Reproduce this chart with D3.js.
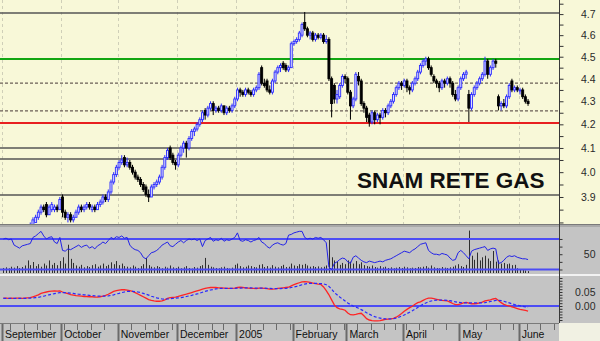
<!DOCTYPE html>
<html><head><meta charset="utf-8">
<script src="https://cdn.jsdelivr.net/npm/d3@7"></script>
<style>body{margin:0;background:#fff}svg{display:block}</style>
</head><body><svg id="c" width="600" height="341"></svg>
<script>
// ---------------- DATA ----------------
const startDate = "2004-09-01";
const holidays = ["2004-12-24","2005-03-25","2005-03-28"];
const monthLabels = ["September","October","November","December","2005","February","March","April","May","June"];
const priceTickLabels = [3.9,4.0,4.1,4.2,4.3,4.4,4.5,4.6,4.7];
const rsiTickLabels = [50];
const macdTickLabels = [0.00,0.05];
const title = "SNAM RETE GAS";
const greyLevels = [4.705,4.10,4.054,3.908];
const dashedLevels = [4.38,4.258];
const greenLevel = 4.49;
const redLevel = 4.206;
const rsiBands = [70,30];

const opens = [
3.73,3.74,3.75,3.74,3.76,3.75,3.76,3.77,3.76,3.77,
3.78,3.79,3.80,3.82,3.84,3.86,3.87,3.83,3.85,3.85,
3.86,3.85,3.90,3.84,3.82,3.83,3.81,3.82,3.84,3.86,
3.85,3.86,3.87,3.85,3.86,3.85,3.87,3.88,3.90,3.89,
3.92,3.96,3.99,4.02,4.04,4.06,4.03,4.04,4.02,4.00,
3.98,3.97,3.95,3.94,3.91,3.90,3.94,3.95,3.96,3.98,
4.02,4.06,4.10,4.07,4.04,4.03,4.07,4.10,4.12,4.10,
4.14,4.17,4.18,4.20,4.22,4.26,4.24,4.27,4.29,4.26,
4.27,4.26,4.28,4.25,4.27,4.26,4.28,4.31,4.35,4.34,
4.33,4.35,4.34,4.33,4.35,4.36,4.45,4.38,4.39,4.35,
4.34,4.39,4.43,4.45,4.47,4.46,4.44,4.45,4.56,4.57,
4.58,4.60,4.66,4.63,4.60,4.61,4.58,4.60,4.59,4.60,
4.57,4.58,4.40,4.37,4.31,4.32,4.37,4.41,4.40,4.34,
4.28,4.31,4.41,4.39,4.29,4.27,4.24,4.21,4.25,4.22,
4.24,4.23,4.26,4.25,4.28,4.30,4.33,4.36,4.38,4.37,
4.39,4.36,4.35,4.38,4.40,4.43,4.46,4.48,4.49,4.45,
4.41,4.39,4.38,4.36,4.39,4.38,4.40,4.38,4.33,4.31,
4.36,4.40,4.42,4.33,4.27,4.33,4.36,4.38,4.40,4.42,
4.48,4.42,4.45,4.48,4.32,4.28,4.29,4.28,4.32,4.39,
4.35,4.36,4.35,4.35,4.32,4.30];
const highs = [
3.75,3.76,3.76,3.77,3.77,3.77,3.78,3.78,3.78,3.79,
3.80,3.82,3.83,3.85,3.87,3.87,3.88,3.87,3.88,3.87,
3.87,3.90,3.91,3.85,3.84,3.84,3.83,3.85,3.87,3.87,
3.87,3.88,3.88,3.87,3.87,3.88,3.89,3.91,3.91,3.93,
3.97,4.00,4.03,4.05,4.07,4.07,4.06,4.05,4.03,4.01,
3.99,3.98,3.96,3.95,3.93,3.95,3.96,3.97,3.99,4.03,
4.07,4.10,4.11,4.08,4.05,4.08,4.11,4.13,4.13,4.15,
4.18,4.19,4.21,4.23,4.26,4.27,4.28,4.30,4.30,4.28,
4.28,4.29,4.28,4.28,4.28,4.29,4.32,4.36,4.36,4.35,
4.36,4.36,4.35,4.36,4.37,4.43,4.46,4.40,4.40,4.37,
4.40,4.44,4.46,4.47,4.48,4.47,4.46,4.57,4.58,4.59,
4.62,4.66,4.71,4.64,4.62,4.62,4.61,4.61,4.61,4.61,
4.60,4.59,4.41,4.38,4.35,4.38,4.42,4.42,4.41,4.35,
4.32,4.43,4.43,4.40,4.30,4.28,4.25,4.26,4.26,4.25,
4.25,4.27,4.27,4.29,4.31,4.34,4.37,4.39,4.39,4.40,
4.40,4.37,4.39,4.41,4.44,4.47,4.49,4.50,4.50,4.46,
4.42,4.40,4.39,4.40,4.40,4.41,4.41,4.39,4.35,4.37,
4.41,4.43,4.44,4.35,4.34,4.37,4.39,4.41,4.43,4.50,
4.49,4.46,4.49,4.49,4.33,4.30,4.31,4.33,4.38,4.40,
4.37,4.37,4.36,4.36,4.33,4.31];
const lows = [
3.72,3.73,3.73,3.73,3.74,3.74,3.75,3.75,3.75,3.76,
3.77,3.79,3.80,3.81,3.83,3.84,3.82,3.83,3.84,3.84,
3.84,3.85,3.82,3.81,3.80,3.80,3.80,3.82,3.83,3.84,
3.84,3.85,3.85,3.84,3.84,3.85,3.86,3.87,3.88,3.88,
3.91,3.95,3.98,4.01,4.03,4.02,4.02,4.01,3.99,3.97,
3.96,3.94,3.92,3.90,3.88,3.90,3.93,3.94,3.95,3.97,
4.01,4.05,4.05,4.03,4.01,4.02,4.06,4.08,4.06,4.09,
4.13,4.15,4.17,4.19,4.21,4.22,4.23,4.26,4.24,4.25,
4.25,4.25,4.24,4.24,4.25,4.25,4.27,4.30,4.32,4.32,
4.32,4.33,4.32,4.32,4.34,4.35,4.37,4.36,4.34,4.33,
4.33,4.38,4.42,4.43,4.44,4.43,4.43,4.45,4.55,4.56,
4.57,4.59,4.62,4.59,4.58,4.57,4.57,4.58,4.58,4.56,
4.56,4.39,4.23,4.29,4.29,4.31,4.36,4.38,4.33,4.22,
4.27,4.30,4.37,4.28,4.25,4.21,4.19,4.20,4.20,4.21,
4.20,4.22,4.23,4.24,4.27,4.29,4.32,4.35,4.35,4.36,
4.34,4.33,4.34,4.37,4.39,4.42,4.45,4.46,4.44,4.41,
4.38,4.36,4.34,4.35,4.36,4.37,4.36,4.32,4.30,4.30,
4.35,4.39,4.40,4.21,4.26,4.32,4.35,4.37,4.39,4.41,
4.40,4.41,4.44,4.45,4.26,4.26,4.27,4.27,4.31,4.34,
4.34,4.34,4.33,4.31,4.29,4.28];
const closes = [
3.74,3.75,3.74,3.76,3.75,3.76,3.77,3.76,3.77,3.78,
3.78,3.81,3.82,3.84,3.86,3.85,3.83,3.86,3.87,3.86,
3.85,3.89,3.84,3.82,3.83,3.81,3.82,3.84,3.86,3.85,
3.86,3.87,3.86,3.86,3.85,3.87,3.88,3.90,3.89,3.92,
3.96,3.99,4.02,4.04,4.05,4.03,4.04,4.02,4.00,3.98,
3.97,3.95,3.93,3.91,3.90,3.94,3.95,3.96,3.98,4.02,
4.06,4.09,4.06,4.04,4.03,4.07,4.10,4.12,4.10,4.14,
4.17,4.18,4.20,4.22,4.25,4.24,4.27,4.29,4.26,4.27,
4.26,4.28,4.25,4.27,4.26,4.28,4.31,4.35,4.34,4.33,
4.35,4.34,4.33,4.35,4.36,4.42,4.38,4.37,4.35,4.34,
4.39,4.43,4.45,4.46,4.45,4.44,4.45,4.56,4.57,4.58,
4.61,4.65,4.63,4.60,4.61,4.58,4.60,4.59,4.60,4.57,
4.58,4.40,4.29,4.31,4.33,4.37,4.41,4.40,4.34,4.28,
4.31,4.42,4.39,4.29,4.27,4.23,4.21,4.25,4.22,4.24,
4.23,4.26,4.25,4.28,4.30,4.33,4.36,4.38,4.37,4.39,
4.36,4.35,4.38,4.40,4.43,4.46,4.48,4.49,4.45,4.42,
4.39,4.38,4.36,4.39,4.38,4.40,4.38,4.33,4.31,4.36,
4.40,4.42,4.43,4.27,4.33,4.36,4.38,4.40,4.42,4.48,
4.42,4.45,4.48,4.47,4.28,4.29,4.28,4.32,4.37,4.35,
4.36,4.35,4.35,4.32,4.30,4.29];
const volumes = [
1.6,1.8,1.5,2.0,1.7,2.2,1.6,1.9,2.4,4.0,2.5,
3.5,2.2,2.8,2.0,3.0,2.4,4.0,2.6,3.2,2.5,3.8,5.0,
3.0,9.0,4.5,3.2,2.4,2.0,2.6,1.8,2.2,1.9,2.5,2.8,
2.0,2.4,3.0,2.2,2.6,3.4,2.8,3.8,2.5,3.0,2.2,2.0,
1.8,2.4,2.0,1.6,2.2,2.8,4.8,2.5,2.0,1.8,2.2,1.9,
1.5,2.0,1.7,2.4,1.8,1.6,2.0,1.5,1.8,2.2,1.6,1.4,
1.9,1.7,2.2,2.5,4.8,2.6,2.0,1.8,1.6,1.5,1.8,2.0,
1.6,1.4,1.7,2.6,3.0,2.2,1.8,2.0,2.4,2.2,1.9,1.8,
2.6,2.8,1.9,2.2,1.7,2.5,2.0,1.8,2.2,2.6,1.9,2.0,
3.0,2.4,2.2,2.8,2.6,2.9,2.4,2.0,2.2,1.9,2.1,1.8,
2.0,2.4,10.5,5.0,4.0,3.5,2.6,3.2,2.8,4.0,3.6,3.0,
3.8,2.8,3.4,2.5,2.2,2.0,2.4,1.9,1.7,2.2,1.8,2.0,
1.6,1.8,1.5,1.7,1.9,1.6,2.0,1.8,1.5,1.7,1.6,1.9,
1.8,2.0,2.2,1.7,2.4,1.8,1.6,1.5,1.9,1.7,1.6,1.8,
2.0,2.4,2.8,2.2,1.9,2.6,13.5,5.5,4.2,6.5,4.0,5.0,
5.5,4.6,3.8,7.0,3.6,4.0,3.0,3.2,2.8,3.0,2.5,2.6,
1.5,1.2,1.0,0.8,0.6];
const rsi = [
70,71,69,70,62,60,58,61,62,63,64,
72,74,77,80,74,70,72,73,66,64,72,55,
54,57,56,58,60,62,59,61,62,58,60,57,
61,63,66,64,68,72,70,73,72,74,71,72,
62,58,56,55,52,46,44,48,52,53,55,58,
62,64,66,61,60,63,66,68,65,68,70,69,
70,68,70,60,68,70,72,67,69,68,71,67,
69,68,70,72,78,68,67,69,68,66,68,69,
72,66,64,60,58,62,64,65,63,62,64,75,
76,78,79,80,80,72,70,71,70,72,71,72,
69,65,33,30,38,40,43,45,44,40,38,46,
48,45,42,40,39,41,40,39,40,41,40,42,
43,44,46,48,50,52,54,53,52,55,57,60,
63,64,65,55,52,50,50,49,51,50,49,45,
42,43,52,55,52,48,44,54,56,57,58,59,
60,55,57,58,57,38,39,42,46,48,47,48,
46,45,44,44,43];
const macd = [
.028,.028,.027,.028,.027,.028,.028,.027,.028,.029,.030,
.033,.036,.040,.045,.048,.050,.052,.053,.054,.053,.054,.050,
.047,.044,.041,.039,.037,.036,.035,.034,.034,.033,.033,.032,
.032,.033,.035,.038,.042,.047,.052,.055,.057,.058,.058,.057,
.055,.052,.048,.043,.038,.033,.028,.023,.020,.018,.017,.017,
.018,.022,.027,.030,.031,.032,.034,.037,.040,.042,.045,.048,
.051,.054,.057,.060,.063,.065,.066,.066,.066,.065,.065,.064,
.063,.063,.063,.064,.066,.067,.066,.065,.064,.063,.063,.062,
.064,.064,.063,.062,.060,.060,.061,.063,.064,.065,.066,.067,
.072,.076,.080,.083,.086,.087,.086,.084,.082,.080,.078,.077,
.068,.055,.040,.022,.004,-.006,-.010,-.012,-.015,-.025,-.031,-.032,
-.030,-.027,-.026,-.035,-.045,-.050,-.052,-.053,-.053,-.052,-.050,-.048,
-.047,-.046,-.044,-.040,-.034,-.027,-.019,-.012,-.006,-.001,.006,.012,
.015,.020,.025,.028,.028,.026,.024,.022,.020,.019,.018,.014,
.009,.005,.005,.008,.011,.013,.010,.008,.008,.009,.011,.014,
.018,.020,.022,.025,.027,.020,.012,.006,.002,.000,-.003,-.006,
-.009,-.012,-.014,-.016,-.018];
const signal = [
.027,.027,.027,.027,.027,.027,.027,.027,.027,.028,.028,
.029,.030,.031,.033,.035,.038,.040,.042,.044,.046,.048,.048,
.048,.047,.046,.045,.043,.042,.041,.040,.039,.038,.037,.036,
.035,.035,.035,.035,.036,.038,.040,.043,.045,.048,.050,.052,
.052,.052,.051,.050,.048,.045,.042,.039,.035,.032,.029,.027,
.025,.024,.025,.026,.027,.028,.029,.030,.032,.034,.036,.038,
.041,.043,.046,.049,.052,.055,.057,.059,.061,.062,.063,.063,
.063,.063,.063,.063,.064,.064,.065,.065,.065,.065,.064,.064,
.064,.064,.064,.063,.063,.062,.062,.062,.062,.063,.063,.064,
.066,.068,.070,.073,.076,.078,.080,.081,.081,.081,.080,.080,
.079,.076,.070,.060,.048,.040,.032,.025,.018,.011,.005,.000,
-.004,-.008,-.013,-.018,-.024,-.029,-.034,-.038,-.041,-.043,-.045,-.046,
-.046,-.046,-.045,-.043,-.040,-.036,-.032,-.027,-.022,-.017,-.011,-.005,
.001,.006,.011,.015,.018,.020,.021,.021,.021,.021,.020,.019,
.017,.015,.013,.012,.011,.011,.011,.011,.011,.011,.011,.011,
.012,.014,.016,.018,.020,.020,.019,.017,.014,.011,.008,.005,
.003,.001,-.001,-.003,-.005];

// ---------------- BUILD ----------------
const N = closes.length;
[opens,highs,lows,volumes,rsi,macd,signal].forEach((a,k)=>{ if(a.length!==N) throw new Error("length mismatch "+k+": "+a.length+" vs "+N); });

const axisDays = 208;
const fmt = d3.timeFormat("%Y-%m-%d");
const days = [];
let dcur = d3.timeParse("%Y-%m-%d")(startDate);
while (days.length < axisDays) {
  const wd = dcur.getDay();
  if (wd > 0 && wd < 6 && !holidays.includes(fmt(dcur))) days.push(new Date(dcur));
  dcur = d3.timeDay.offset(dcur, 1);
}
const monthStarts = days.map((d,i)=>i).filter(i => i===0 || days[i].getMonth()!==days[i-1].getMonth());
const weekStarts = days.map((d,i)=>i).filter(i => i>0 && days[i].getDay()<days[i-1].getDay() && !monthStarts.includes(i));

const AX = 559;
const FONT = '"Liberation Sans", Arial, sans-serif';
const svg = d3.select("#c");
const x = d3.scaleLinear().domain([0, axisDays-1]).range([2, AX]);
const cx = i => x(i + 0.5);
const yP = d3.scaleLog().domain([3.794, 4.768]).range([224, 0]);
const yR = d3.scaleLinear().domain([25.4, 85.7]).range([273, 227]);
const yV = d3.scaleLinear().domain([0, 14]).range([273, 229]);
const yM = d3.scaleLinear().domain([-0.0571, 0.1071]).range([322, 276]);

// backgrounds
svg.append("rect").attr("x",0).attr("y",0).attr("width",600).attr("height",224).attr("fill","#f8f8d8");
svg.append("rect").attr("x",0).attr("y",224).attr("width",600).attr("height",3).attr("fill","#a9a9a9");
svg.append("line").attr("x1",0).attr("x2",600).attr("y1",224.5).attr("y2",224.5).attr("stroke","#7a7a7a");
svg.append("rect").attr("x",0).attr("y",227).attr("width",600).attr("height",47).attr("fill","#c4c4c4");
svg.append("rect").attr("x",0).attr("y",274).attr("width",600).attr("height",2).attr("fill","#f2f2f2");
svg.append("rect").attr("x",0).attr("y",276).attr("width",600).attr("height",47).attr("fill","#c4c4c4");
svg.append("rect").attr("x",0).attr("y",323).attr("width",AX).attr("height",18).attr("fill","#c4c4c4");
svg.append("rect").attr("x",AX).attr("y",323).attr("width",600-AX).attr("height",18).attr("fill","#f1f1e3");
svg.append("line").attr("x1",0).attr("x2",AX).attr("y1",323.5).attr("y2",323.5).attr("stroke","#7a7a7a");

const defs = svg.append("defs");
defs.append("clipPath").attr("id","cm").append("rect").attr("x",0).attr("y",0).attr("width",AX).attr("height",224);
defs.append("clipPath").attr("id","cr").append("rect").attr("x",0).attr("y",227).attr("width",AX).attr("height",47);
defs.append("clipPath").attr("id","cd").append("rect").attr("x",0).attr("y",276).attr("width",AX).attr("height",47);

// main panel grid
const gm = svg.append("g").attr("clip-path","url(#cm)");
gm.selectAll("line.vg").data(monthStarts).join("line").attr("class","vg")
  .attr("x1",i=>Math.round(x(i))+0.5).attr("x2",i=>Math.round(x(i))+0.5).attr("y1",0).attr("y2",224)
  .attr("stroke","#cfcfb8").attr("stroke-dasharray","3,3");
gm.selectAll("line.gl").data(greyLevels).join("line").attr("class","gl")
  .attr("x1",0).attr("x2",AX).attr("y1",d=>yP(d)).attr("y2",d=>yP(d)).attr("stroke","#565656").attr("stroke-width",1.4);
gm.selectAll("line.dl").data(dashedLevels).join("line").attr("class","dl")
  .attr("x1",0).attr("x2",AX).attr("y1",d=>yP(d)).attr("y2",d=>yP(d)).attr("stroke","#6a5e56").attr("stroke-width",1.3).attr("stroke-dasharray","3,2");
gm.append("line").attr("x1",0).attr("x2",AX).attr("y1",yP(greenLevel)).attr("y2",yP(greenLevel)).attr("stroke","#12a612").attr("stroke-width",2);
gm.append("line").attr("x1",0).attr("x2",AX).attr("y1",yP(redLevel)).attr("y2",yP(redLevel)).attr("stroke","#e82020").attr("stroke-width",2);

// title
svg.append("text").attr("x",357).attr("y",188).attr("font-family",FONT).attr("font-weight","bold")
  .attr("font-size","22.5px").attr("fill","#111").text(title);

// candles
const idx = d3.range(N);
const cg = gm.append("g");
const up = i => closes[i] >= opens[i];
cg.selectAll("line.wick").data(idx).join("line").attr("class","wick")
  .attr("x1",i=>cx(i)).attr("x2",i=>cx(i)).attr("y1",i=>yP(highs[i])).attr("y2",i=>yP(lows[i]))
  .attr("stroke",i=>up(i)?"#2c2cff":"#000").attr("stroke-width",1);
cg.selectAll("rect.body").data(idx).join("rect").attr("class","body")
  .attr("x",i=>cx(i)-1).attr("width",2)
  .attr("y",i=>yP(Math.max(opens[i],closes[i])))
  .attr("height",i=>Math.max(1, yP(Math.min(opens[i],closes[i])) - yP(Math.max(opens[i],closes[i]))))
  .attr("fill",i=>up(i)?"#dcdcff":"#000").attr("stroke",i=>up(i)?"#2c2cff":"#000").attr("stroke-width",0.9);

// RSI panel
const gr = svg.append("g").attr("clip-path","url(#cr)");
gr.selectAll("line.vol").data(idx).join("line").attr("class","vol")
  .attr("x1",i=>Math.round(cx(i))+0.5).attr("x2",i=>Math.round(cx(i))+0.5).attr("y1",yV(0)).attr("y2",i=>yV(volumes[i]))
  .attr("stroke","#2e2e2e").attr("stroke-width",1);
gr.selectAll("line.band").data(rsiBands).join("line").attr("class","band")
  .attr("x1",0).attr("x2",AX).attr("y1",d=>yR(d)).attr("y2",d=>yR(d)).attr("stroke","#4c4cf4").attr("stroke-width",2);
gr.append("path").datum(idx).attr("fill","none").attr("stroke","#2222e8").attr("stroke-width",1)
  .attr("d", d3.line().x(i=>cx(i)).y(i=>yR(rsi[i])));

// MACD panel
const gd = svg.append("g").attr("clip-path","url(#cd)");
gd.append("line").attr("x1",0).attr("x2",AX).attr("y1",yM(0)).attr("y2",yM(0)).attr("stroke","#4c4cf4").attr("stroke-width",2);
gd.append("path").datum(idx).attr("fill","none").attr("stroke","#ff2424").attr("stroke-width",1.3)
  .attr("d", d3.line().x(i=>cx(i)).y(i=>yM(macd[i])));
gd.append("path").datum(idx).attr("fill","none").attr("stroke","#2828ff").attr("stroke-width",1.2).attr("stroke-dasharray","3,2")
  .attr("d", d3.line().x(i=>cx(i)).y(i=>yM(signal[i])));

// right axis line
svg.append("line").attr("x1",AX+0.5).attr("x2",AX+0.5).attr("y1",0).attr("y2",323).attr("stroke","#3a3a3a");

function styleAxis(g, labelX){
  g.select(".domain").remove();
  g.selectAll(".tick line").attr("stroke","#333");
  g.selectAll(".tick text").attr("x",labelX).attr("text-anchor","end").attr("font-family",FONT).attr("font-size","10.5px").attr("fill","#2a2a2a");
}
// price axis
const pTicks = d3.range(76,96).map(k=>k/20);
const ga = svg.append("g").attr("transform",`translate(${AX+0.5},0)`)
  .call(d3.axisRight(yP).tickValues(pTicks).tickSize(4)
    .tickFormat(d => priceTickLabels.some(v=>Math.abs(v-d)<1e-9) ? d.toFixed(1) : ""));
styleAxis(ga, 36);
// rsi axis
const grA = svg.append("g").attr("transform",`translate(${AX+0.5},0)`)
  .call(d3.axisRight(yR).tickValues([30,40,50,60,70]).tickSize(3)
    .tickFormat(d => rsiTickLabels.includes(d) ? String(d) : ""));
styleAxis(grA, 36);
// macd axis
const mTicks = d3.range(-5,11).map(k=>k/100);
const gmA = svg.append("g").attr("transform",`translate(${AX+0.5},0)`)
  .call(d3.axisRight(yM).tickValues(mTicks).tickSize(3)
    .tickFormat(d => macdTickLabels.some(v=>Math.abs(v-d)<1e-9) ? d.toFixed(2) : ""));
styleAxis(gmA, 36);

// x axis
const gx = svg.append("g");
gx.selectAll("line.mt").data(monthStarts).join("line").attr("class","mt")
  .attr("x1",i=>Math.round(x(i))+0.5).attr("x2",i=>Math.round(x(i))+0.5).attr("y1",324).attr("y2",341)
  .attr("stroke","#6a6a6a").attr("stroke-width",2);
gx.selectAll("line.wt").data(weekStarts).join("line").attr("class","wt")
  .attr("x1",i=>Math.round(x(i))+0.5).attr("x2",i=>Math.round(x(i))+0.5).attr("y1",324).attr("y2",330)
  .attr("stroke","#6a6a6a").attr("stroke-width",1);
gx.selectAll("text").data(monthStarts).join("text")
  .attr("x",i=>x(i)+3).attr("y",337.5).attr("font-family",FONT).attr("font-size","10.5px").attr("fill","#111")
  .text((i,k)=>monthLabels[k]);
</script>
</body></html>
